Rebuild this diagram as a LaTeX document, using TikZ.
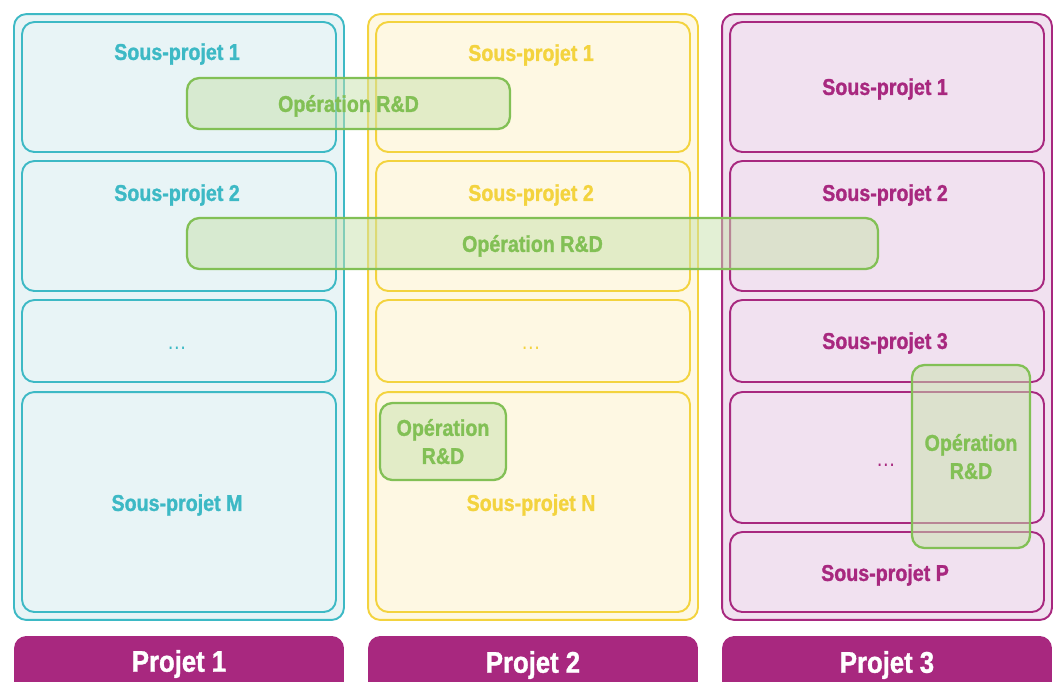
\documentclass[tikz,border=0pt]{standalone}
\usepackage{fontspec}
\setmainfont{Liberation Sans}[FakeStretch=0.86, BoldFeatures={FakeBold=1.2}]
\usepackage{xcolor}
\usetikzlibrary{positioning,calc}

\definecolor{tealc}{HTML}{3DB9C5}
\definecolor{tealf}{HTML}{E8F4F6}
\definecolor{yelc}{HTML}{F3D33E}
\definecolor{yelf}{HTML}{FEF8E3}
\definecolor{purc}{HTML}{A8287F}
\definecolor{purf}{HTML}{F1E1F0}
\definecolor{opc}{HTML}{82C055}
\definecolor{opf}{HTML}{C8E2AC}

\begin{document}
\begin{tikzpicture}[
	x=0.02cm, y=-0.02cm,
	font=\bfseries,
	% cadres
	colbox/.style={draw=#1, line width=1.1pt, rounded corners=7pt,
		minimum width=6.6cm, minimum height=12.12cm, inner sep=0pt},
	subbox/.style={draw=#1, line width=1.1pt, rounded corners=7pt,
		minimum width=6.28cm, inner sep=0pt},
	sptxt/.style={text=#1, font=\bfseries\fontsize{13}{15}\selectfont},
	dots/.style={text=#1, font=\fontsize{13}{15}\selectfont},
	opbox/.style={draw=opc, line width=1.3pt, rounded corners=7pt,
		fill=opf, fill opacity=0.5, text opacity=1, draw opacity=1,
		text=opc, align=center, inner sep=0pt, text depth=0pt,
		font=\bfseries\fontsize{13}{16}\selectfont},
	projbar/.style={fill=purc, rounded corners=7pt, minimum width=6.6cm,
		minimum height=1.4cm, inner sep=0pt},
	projtxt/.style={text=white, font=\bfseries\fontsize{17}{19}\selectfont}
	]
	\clip (0,0) rectangle (1057,681);
	\useasboundingbox (0,0) rectangle (1057,681);

	% --- PROJET 1 ---
	\node[colbox=tealc, fill=tealf] (p1) at (179,317) {};
	\node[subbox=tealc, minimum height=2.6cm] (a1) at (179,87) {};
	\node[subbox=tealc, minimum height=2.6cm] (a2) at (179,226) {};
	\node[subbox=tealc, minimum height=1.64cm] (a3) at (179,341) {};
	\node[subbox=tealc, minimum height=4.4cm] (a4) at (179,502) {};
	\node[sptxt=tealc] (ta1) at (177,54) {Sous-projet 1};
	\node[sptxt=tealc] (ta2) at (177,195) {Sous-projet 2};
	\node[dots=tealc] (ta3) at (177,348) {…};
	\node[sptxt=tealc] (ta4) at (177,505) {Sous-projet M};

	% --- PROJET 2 ---
	\node[colbox=yelc, fill=yelf] (p2) at (533,317) {};
	\node[subbox=yelc, minimum height=2.6cm] (b1) at (533,87) {};
	\node[subbox=yelc, minimum height=2.6cm] (b2) at (533,226) {};
	\node[subbox=yelc, minimum height=1.64cm] (b3) at (533,341) {};
	\node[subbox=yelc, minimum height=4.4cm] (b4) at (533,502) {};
	\node[sptxt=yelc] (tb1) at (531,55) {Sous-projet 1};
	\node[sptxt=yelc] (tb2) at (531,195) {Sous-projet 2};
	\node[dots=yelc] (tb3) at (531,348) {…};
	\node[sptxt=yelc] (tb4) at (531,505) {Sous-projet N};

	% --- PROJET 3 ---
	\node[colbox=purc, fill=purf] (p3) at (887,317) {};
	\node[subbox=purc, minimum height=2.6cm] (c1) at (887,87) {};
	\node[subbox=purc, minimum height=2.6cm] (c2) at (887,226) {};
	\node[subbox=purc, minimum height=1.64cm] (c3) at (887,341) {};
	\node[subbox=purc, minimum height=2.62cm] (c4) at (887,457.5) {};
	\node[subbox=purc, minimum height=1.6cm] (c5) at (887,572) {};
	\node[sptxt=purc] (tc1) at (885,89) {Sous-projet 1};
	\node[sptxt=purc] (tc2) at (885,195) {Sous-projet 2};
	\node[sptxt=purc] (tc3) at (885,343) {Sous-projet 3};
	\node[dots=purc] (tc4) at (886,465) {…};
	\node[sptxt=purc] (tc5) at (885,575) {Sous-projet P};

	% --- OPERATIONS R&D ---
	\node[opbox, minimum width=6.46cm, minimum height=1.02cm] (op1) at (348.5,103.5) {Opération R\&D};
	\node[opbox, minimum width=13.82cm, minimum height=1.02cm] (op2) at (532.5,243.5) {Opération R\&D};
	\node[opbox, minimum width=2.52cm, minimum height=1.54cm] (op3) at (443,441.5) {Opération\\R\&D};
	\node[opbox, minimum width=2.36cm, minimum height=3.66cm] (op4) at (971,456.5) {Opération\\R\&D};

	% --- BARRES PROJET ---
	\node[projbar] (bar1) at (179,671) {};
	\node[projbar] (bar2) at (533,671) {};
	\node[projbar] (bar3) at (887,671) {};
	\node[projtxt] (l1) at (179,664) {Projet 1};
	\node[projtxt] (l2) at (533,665) {Projet 2};
	\node[projtxt] (l3) at (887,665) {Projet 3};
\end{tikzpicture}
\end{document}
